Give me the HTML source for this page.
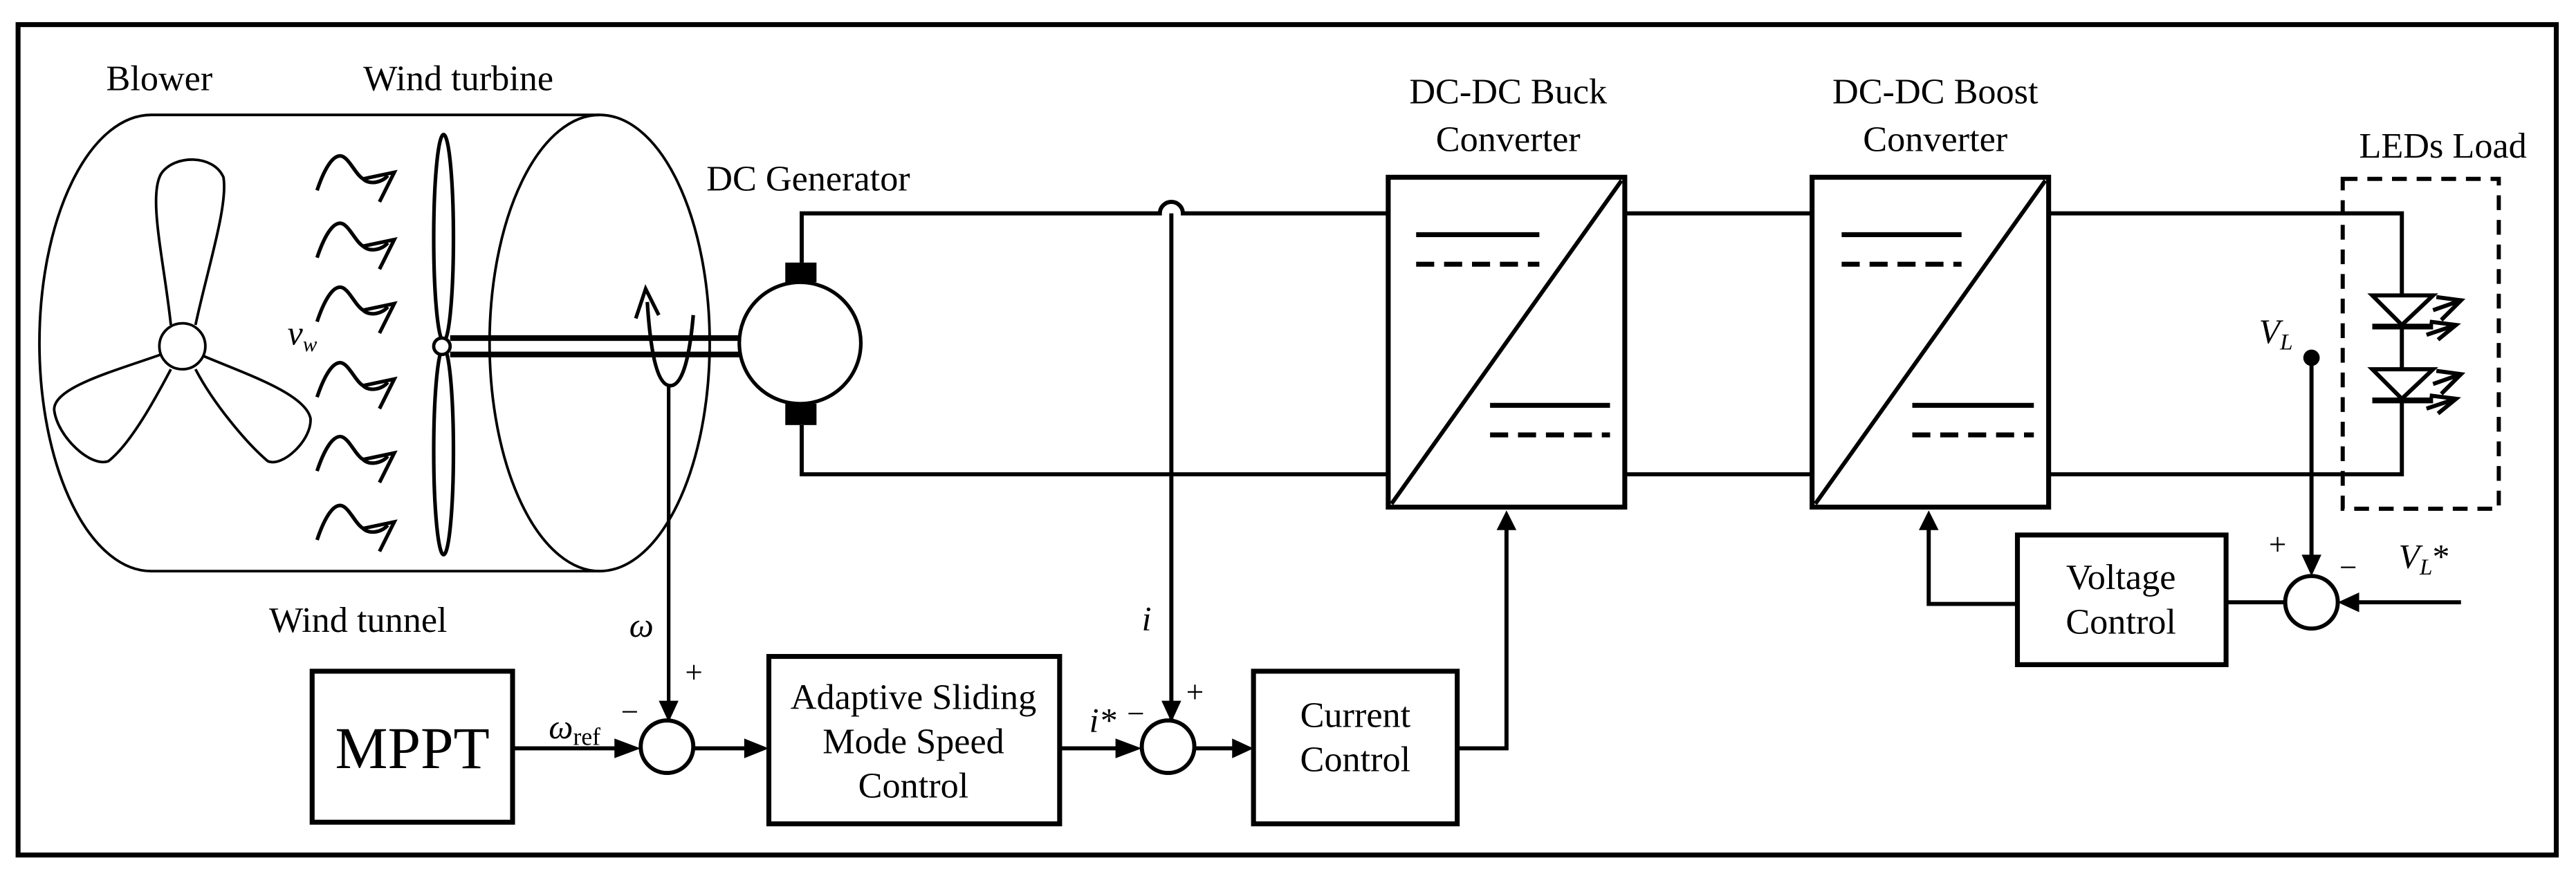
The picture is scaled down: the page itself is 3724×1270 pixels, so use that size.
<!DOCTYPE html>
<html><head><meta charset="utf-8"><style>
html,body{margin:0;padding:0;background:#fff;}
svg{display:block;}
text{font-family:"Liberation Serif",serif;fill:#000;}
</style></head><body>
<svg width="3724" height="1270" viewBox="0 0 1568 535" preserveAspectRatio="none" xmlns="http://www.w3.org/2000/svg">
<rect x="11" y="15" width="1545" height="506" fill="none" stroke="#000" stroke-width="3"/>
<g font-size="22" text-anchor="middle">
<text x="97" y="55">Blower</text>
<text x="279" y="55">Wind turbine</text>
<text x="492" y="116">DC Generator</text>
<text x="218" y="385">Wind tunnel</text>
<text x="918" y="63">DC-DC Buck</text>
<text x="918" y="92">Converter</text>
<text x="1178" y="63">DC-DC Boost</text>
<text x="1178" y="92">Converter</text>
<text x="1487" y="96">LEDs Load</text>
<text x="556" y="432">Adaptive Sliding</text>
<text x="556" y="459">Mode Speed</text>
<text x="556" y="486">Control</text>
<text x="825" y="443">Current</text>
<text x="825" y="470">Control</text>
<text x="1291" y="359">Voltage</text>
<text x="1291" y="386">Control</text>
<text x="251" y="468" font-size="36">MPPT</text>
</g>
<g fill="none" stroke="#000" stroke-width="1.6">
<path d="M92,70 L365,70 M92,348 L365,348 M92,70 A68,139 0 0 0 92,348"/>
<ellipse cx="365" cy="209" rx="67" ry="139"/>
<circle cx="111" cy="211" r="14"/>
<path d="M104,198 C100,160 90,120 98,106 C106,94 130,94 136,108 C139,125 126,165 119,198"/>
<path d="M98,216 C70,226 32,236 33,250 C35,266 55,285 66,281 C80,270 95,242 104,225"/>
<path d="M124,217 C150,228 186,240 189,255 C190,268 172,285 163,281 C150,270 130,246 119,225"/>
</g>
<g fill="none" stroke="#000" stroke-width="2.2">
<g id="w"><path d="M193,116 C197,104 202,95 207,95 C212,95 216,106 221,109 L240,105 L231,123 M221,109 C225,113 233,111 236,107"/></g>
<use href="#w" y="41"/><use href="#w" y="80"/><use href="#w" y="126"/><use href="#w" y="171"/><use href="#w" y="213"/>
<ellipse cx="270" cy="145" rx="6" ry="63"/>
<ellipse cx="270" cy="275" rx="6" ry="63"/>
</g>
<circle cx="269" cy="211" r="5" fill="#fff" stroke="#000" stroke-width="2"/>
<g stroke="#000" stroke-width="3.5">
<line x1="274" y1="206" x2="450" y2="206"/>
<line x1="274" y1="216" x2="450" y2="216"/>
</g>
<g fill="none" stroke="#000" stroke-width="2.2">
<path d="M422,192 C420,215 416,235 408,235 C400,235 396,215 394,184"/>
<path d="M387,194 L393,176 L401,192"/>
<line x1="407" y1="235" x2="407" y2="440"/>
<ellipse cx="487" cy="209" rx="37" ry="37"/>
</g>
<rect x="478" y="160" width="19" height="12" fill="#000"/>
<rect x="478" y="246" width="19" height="13" fill="#000"/>
<g fill="none" stroke="#000" stroke-width="2.5">
<path d="M488,160 L488,130 L706,130 A7,7 0 0 1 720,130 L845,130"/>
<path d="M488,259 L488,289 L845,289"/>
<line x1="713" y1="130" x2="713" y2="440"/>
<line x1="989" y1="130" x2="1103" y2="130"/>
<line x1="989" y1="289" x2="1103" y2="289"/>
<path d="M1247,130 L1462,130 L1462,289 L1247,289"/>
<rect x="845" y="108" width="144" height="201" stroke-width="3"/>
<line x1="847" y1="307" x2="987" y2="110"/>
<line x1="862" y1="143" x2="937" y2="143" stroke-width="3"/>
<line x1="862" y1="161" x2="937" y2="161" stroke-width="3" stroke-dasharray="11,6"/>
<line x1="907" y1="247" x2="980" y2="247" stroke-width="3"/>
<line x1="907" y1="265" x2="980" y2="265" stroke-width="3" stroke-dasharray="11,6"/>
<rect x="1103" y="108" width="144" height="201" stroke-width="3"/>
<line x1="1105" y1="307" x2="1245" y2="110"/>
<line x1="1121" y1="143" x2="1194" y2="143" stroke-width="3"/>
<line x1="1121" y1="161" x2="1194" y2="161" stroke-width="3" stroke-dasharray="11,6"/>
<line x1="1164" y1="247" x2="1238" y2="247" stroke-width="3"/>
<line x1="1164" y1="265" x2="1238" y2="265" stroke-width="3" stroke-dasharray="11,6"/>
<rect x="1426" y="109" width="95" height="201" stroke-width="2.5" stroke-dasharray="9,6"/>
<rect x="190" y="409" width="122" height="92" stroke-width="3"/>
<rect x="468" y="400" width="177" height="102" stroke-width="3"/>
<rect x="763" y="409" width="124" height="93" stroke-width="3"/>
<rect x="1228" y="326" width="127" height="79" stroke-width="3"/>
<circle cx="406" cy="455" r="16"/>
<circle cx="711" cy="455" r="16"/>
<circle cx="1407" cy="367" r="16"/>
<line x1="312" y1="456" x2="382" y2="456"/>
<line x1="422" y1="456" x2="458" y2="456"/>
<line x1="645" y1="456" x2="687" y2="456"/>
<line x1="727" y1="456" x2="753" y2="456"/>
<path d="M887,456 L917,456 L917,322"/>
<path d="M1228,368 L1174,368 L1174,322"/>
<line x1="1355" y1="367" x2="1391" y2="367"/>
<line x1="1407" y1="218" x2="1407" y2="343"/>
<line x1="1433" y1="367" x2="1498" y2="367"/>
<g id="ar"><path d="M1481,189 L1498,183 M1483,181 L1498,183 L1486,195 M1477,204 L1495,198 M1479,196 L1495,198 L1484,207"/></g>
<use href="#ar" y="45"/>
</g>
<g stroke="#000" stroke-width="2.5" fill="#fff">
<polygon points="1444,180 1481,180 1462,198"/>
<polygon points="1444,225 1481,225 1462,243"/>
<line x1="1444" y1="199" x2="1481" y2="199" stroke-width="3.5"/>
<line x1="1444" y1="244" x2="1481" y2="244" stroke-width="3.5"/>
</g>
<circle cx="1407" cy="218" r="5" fill="#000"/>
<g fill="#000">
<polygon points="401,427 413,427 407,440"/>
<polygon points="707,427 719,427 713,440"/>
<polygon points="1401,338 1413,338 1407,351"/>
<polygon points="374,450 374,462 390,456"/>
<polygon points="453,450 453,462 468,456"/>
<polygon points="679,450 679,462 695,456"/>
<polygon points="750,450 750,462 763,456"/>
<polygon points="911,323 923,323 917,311"/>
<polygon points="1168,323 1180,323 1174,311"/>
<polygon points="1436,361 1436,373 1423,367"/>
</g>
<g font-size="21" font-style="italic">
<text x="175" y="210">v<tspan font-size="13" dy="4">w</tspan></text>
<text x="383" y="388">ω</text>
<text x="334" y="450">ω<tspan font-style="normal" font-size="15" dy="4">ref</tspan></text>
<text x="695" y="384">i</text>
<text x="663" y="446">i*</text>
<text x="1375" y="209">V<tspan font-size="14" dy="4">L</tspan></text>
<text x="1460" y="346">V<tspan font-size="14" dy="4">L</tspan><tspan dy="-4" font-style="normal">*</tspan></text>
</g>
<g font-size="19">
<text x="417" y="416">+</text>
<text x="378" y="440">−</text>
<text x="722" y="428">+</text>
<text x="686" y="441">−</text>
<text x="1381" y="338">+</text>
<text x="1424" y="352">−</text>
</g>
</svg>
</body></html>
